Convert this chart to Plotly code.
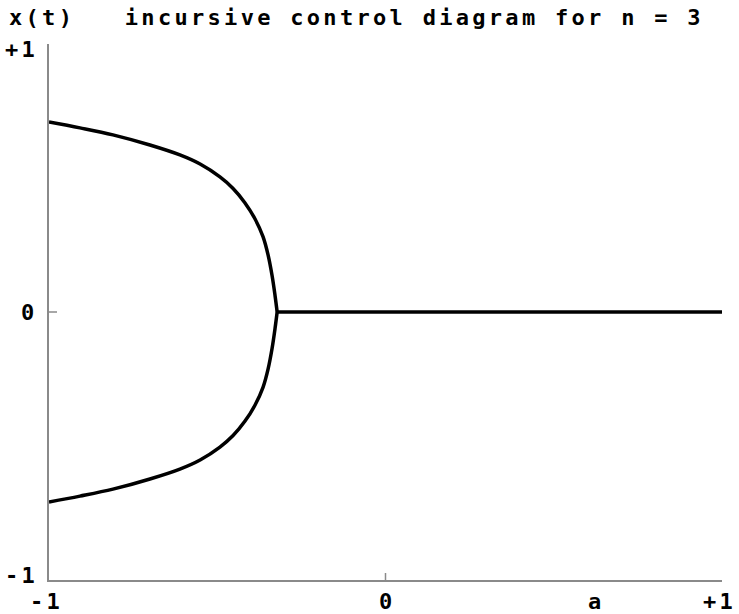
import plotly.graph_objects as go

# Upper branch of the attractor x(t) versus control parameter a (n = 3)
a_branch = [-1.000, -0.908, -0.810, -0.700, -0.611, -0.551, -0.492, -0.453,
            -0.418, -0.388, -0.364, -0.349, -0.337, -0.328, -0.322]
x_branch = [0.709, 0.687, 0.661, 0.623, 0.586, 0.552, 0.504, 0.461,
            0.408, 0.348, 0.281, 0.213, 0.135, 0.059, 0.0]

# Stable fixed point x = 0 beyond the bifurcation
a_zero = [-0.322, 1.0]
x_zero = [0.0, 0.0]

x_lower = [-v for v in x_branch]

FONT = "DejaVu Sans Mono"
SPACING = "letter-spacing:3.3px"


def label(text):
    return f'<span style="{SPACING}"><b>{text}</b></span>'


fig = go.Figure()
line_style = dict(color="black", width=3.5, shape="spline", smoothing=1.0)
fig.add_trace(go.Scatter(x=a_branch, y=x_branch, mode="lines", line=line_style))
fig.add_trace(go.Scatter(x=a_branch, y=x_lower, mode="lines", line=line_style))
fig.add_trace(go.Scatter(x=a_zero, y=x_zero, mode="lines", line=dict(color="black", width=3.5)))

axis_gray = "#8a8a8a"
fig.update_xaxes(range=[-1, 1], showgrid=False, zeroline=False, showticklabels=False,
                 showline=True, linecolor=axis_gray, linewidth=1.5, fixedrange=True)
fig.update_yaxes(range=[-1, 1], showgrid=False, zeroline=False, showticklabels=False,
                 showline=True, linecolor=axis_gray, linewidth=1.5, fixedrange=True)

# Crossing ticks at the origin values
fig.add_shape(type="line", xref="x", yref="y", xsizemode="pixel", xanchor=-1,
              x0=-8, x1=8, y0=0, y1=0, line=dict(color=axis_gray, width=1.5))
fig.add_shape(type="line", xref="x", yref="y", ysizemode="pixel", yanchor=-1,
              x0=0, x1=0, y0=-7, y1=7, line=dict(color=axis_gray, width=1.5))

tfont = dict(family=FONT, size=22, color="black")
ann = []
# Header line
ann.append(dict(text=label("x(t)&nbsp;&nbsp;&nbsp;incursive control diagram for n = 3"),
                xref="paper", yref="paper", x=-42 / 673, y=1, yshift=27,
                xanchor="left", yanchor="middle", showarrow=False, font=tfont))
# y-axis labels
for val, txt, shift in [(1, "+1", -5), (0, "0", 0), (-1, "-1", 5)]:
    ann.append(dict(text=label(txt), xref="paper", yref="y", x=0, y=val, xshift=-9, yshift=shift,
                    xanchor="right", yanchor="middle", showarrow=False, font=tfont))
# x-axis labels
for val, txt, dx, anchor in [(-1, "-1", -3, "center"), (0, "0", 2, "center"),
                             (0.62, "a", 2, "center"), (1, "+1", 16, "right")]:
    ann.append(dict(text=label(txt), xref="x", yref="paper", x=val, y=0, yshift=-21, xshift=dx,
                    xanchor=anchor, yanchor="middle", showarrow=False, font=tfont))
fig.update_layout(annotations=ann)

fig.update_layout(
    width=739, height=614,
    margin=dict(l=49, r=17, t=44, b=34),
    paper_bgcolor="white", plot_bgcolor="white",
    showlegend=False,
)

fig.write_html("out.html", config={"displayModeBar": False})
